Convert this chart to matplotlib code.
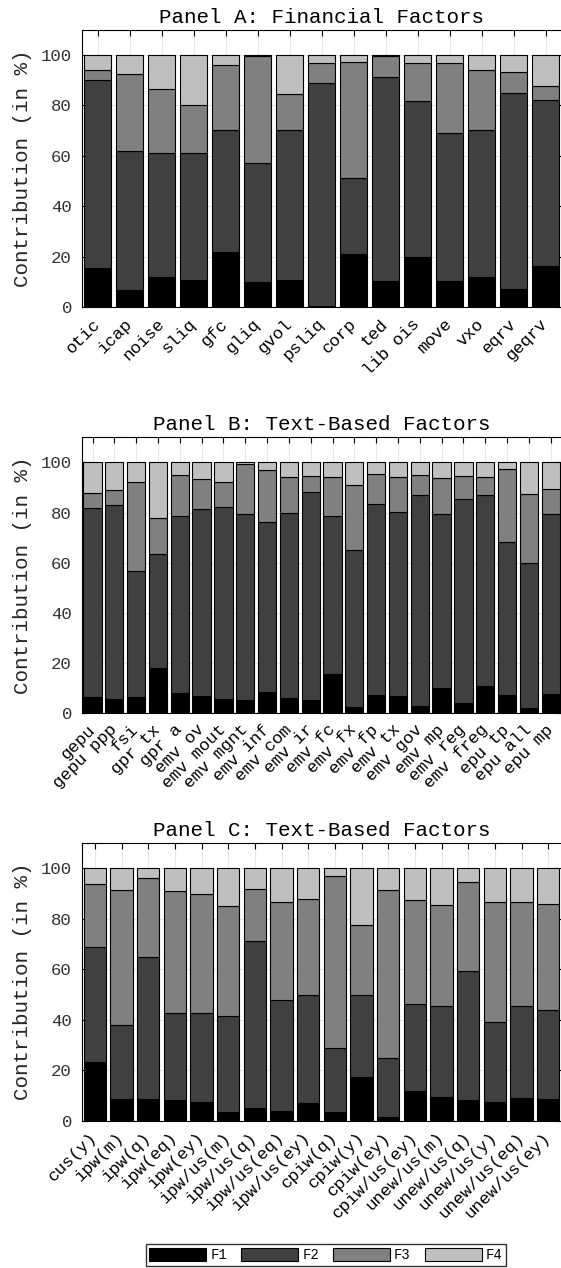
import numpy as np
import matplotlib
matplotlib.use("Agg")
import matplotlib.pyplot as plt
import matplotlib.transforms as mtransforms
from matplotlib.patches import Patch

plt.rcParams['font.family'] = ['Liberation Mono', 'DejaVu Sans Mono']

# Panel A: financial factors (share of each factor, in %)
fin_labels = ['otic', 'icap', 'noise', 'sliq', 'gfc', 'gliq', 'gvol', 'psliq',
              'corp', 'ted', 'lib ois', 'move', 'vxo', 'eqrv', 'geqrv']
fin_f1 = [15.6, 6.9, 12.1, 10.7, 21.9, 9.9, 10.7, 0.6, 21.2, 10.3, 19.9, 10.3, 12.1, 7.2, 16.6]
fin_f2 = [74.6, 55.1, 49.1, 50.3, 48.5, 47.1, 59.4, 88.4, 30.1, 81.1, 62.0, 58.8, 58.2, 77.8, 65.6]
fin_f3 = [3.7, 30.3, 25.3, 19.2, 25.6, 42.4, 14.5, 7.8, 45.7, 8.2, 14.7, 27.5, 23.6, 8.1, 5.4]
fin_f4 = [6.1, 7.7, 13.5, 19.8, 4.0, 0.6, 15.4, 3.2, 3.0, 0.4, 3.4, 3.4, 6.1, 6.9, 12.4]

# Panel B: text-based factors
txt_labels = ['gepu', 'gepu ppp', 'fsi', 'gpr tx', 'gpr a', 'emv ov', 'emv mout',
              'emv mgnt', 'emv inf', 'emv com', 'emv ir', 'emv fc', 'emv fx', 'emv fp',
              'emv tx', 'emv gov', 'emv mp', 'emv reg', 'emv freg', 'epu tp',
              'epu all', 'epu mp']
txt_f1 = [6.4, 5.6, 6.4, 17.9, 8.0, 6.7, 5.6, 5.3, 8.5, 6.0, 5.3, 15.7, 2.4, 7.1,
          6.9, 2.8, 10.1, 4.0, 10.7, 7.1, 2.1, 7.6]
txt_f2 = [75.3, 77.3, 50.3, 45.7, 70.7, 74.7, 76.6, 74.3, 67.9, 74.0, 82.9, 63.0, 62.7, 76.2,
          73.4, 84.4, 69.2, 81.4, 76.5, 61.2, 57.9, 71.7]
txt_f3 = [6.1, 6.0, 35.3, 14.3, 16.4, 11.9, 10.0, 19.6, 20.6, 14.0, 6.3, 15.5, 25.8, 12.0,
          13.8, 7.9, 14.4, 9.3, 6.9, 29.1, 27.4, 9.9]
txt_f4 = [12.2, 11.1, 8.0, 22.1, 4.9, 6.7, 7.8, 0.8, 3.0, 6.0, 5.5, 5.8, 9.1, 4.7,
          5.9, 4.9, 6.3, 5.3, 5.9, 2.6, 12.6, 10.8]

# Panel C: text-based factors (macro news)
mac_labels = ['cus(y)', 'ipw(m)', 'ipw(q)', 'ipw(eq)', 'ipw(ey)', 'ipw/us(m)', 'ipw/us(q)',
              'ipw/us(eq)', 'ipw/us(ey)', 'cpiw(q)', 'cpiw(y)', 'cpiw(ey)', 'cpiw/us(ey)',
              'unew/us(m)', 'unew/us(q)', 'unew/us(y)', 'unew/us(eq)', 'unew/us(ey)']
mac_f1 = [23.3, 8.6, 8.4, 8.2, 7.4, 3.3, 4.9, 3.8, 7.0, 3.4, 17.1, 1.3, 11.7, 9.3, 8.2, 7.4, 9.1, 8.6]
mac_f2 = [45.3, 29.2, 56.2, 34.4, 35.1, 38.3, 66.3, 44.1, 42.7, 25.4, 32.8, 23.6, 34.5, 36.2,
          51.1, 31.5, 36.2, 35.4]
mac_f3 = [25.2, 53.6, 31.6, 48.2, 47.1, 43.3, 20.5, 38.8, 37.9, 67.9, 27.5, 66.3, 41.0, 39.8,
          35.2, 47.7, 41.3, 41.7]
mac_f4 = [6.2, 8.6, 3.8, 9.2, 10.4, 15.1, 8.3, 13.3, 12.4, 3.3, 22.6, 8.8, 12.8, 14.7,
          5.5, 13.4, 13.4, 14.3]

factor_names = ['F1', 'F2', 'F3', 'F4']
factor_colors = ['#000000', '#404040', '#808080', '#bfbfbf']

W, H = 561, 1268
fig = plt.figure(figsize=(W / 100, H / 100), dpi=100)


def stacked_panel(rect, title, labels, parts):
    ax = fig.add_axes(rect)
    x = np.arange(1, len(labels) + 1)
    bottom = np.zeros(len(labels))
    for vals, col in zip(parts, factor_colors):
        vals = np.asarray(vals)
        ax.bar(x, vals, width=0.84, bottom=bottom, color=col,
               edgecolor='black', linewidth=0.8, zorder=2)
        bottom += vals
    ax.set_xlim(0.5, len(labels) + 0.5)
    ax.set_ylim(0, 110)
    ax.set_yticks(np.arange(0, 101, 20))
    ax.set_xticks(x)
    ax.set_xticklabels(labels, rotation=45, ha='right', va='center',
                       rotation_mode='anchor', fontsize=12.5)
    # MATLAB-like placement: label end sits a little right of its tick
    offset = mtransforms.ScaledTranslation(0.115, 0, fig.dpi_scale_trans)
    for lab in ax.get_xticklabels():
        lab.set_transform(lab.get_transform() + offset)
    ax.tick_params(axis='both', direction='in', top=True, right=True,
                   length=4, width=0.8, colors='black', labelsize=12.5)
    ax.tick_params(axis='y', pad=7, labelcolor='#333333')
    ax.tick_params(axis='x', pad=10)
    ax.grid(True, color='#e6e6e6', linewidth=0.8)
    ax.set_axisbelow(True)
    for s in ax.spines.values():
        s.set_linewidth(0.8)
    ax.set_title(title, fontsize=15, pad=5)
    ax.set_ylabel('Contribution (in %)', fontsize=15, color='#262626', labelpad=6)
    return ax


left, width = 81.6 / W, 480 / W
stacked_panel([left, 1 - 307.5 / H, width, 278 / H],
              'Panel A: Financial Factors', fin_labels,
              [fin_f1, fin_f2, fin_f3, fin_f4])
stacked_panel([left, 1 - 713.3 / H, width, 276 / H],
              'Panel B: Text-Based Factors', txt_labels,
              [txt_f1, txt_f2, txt_f3, txt_f4])
stacked_panel([left, 1 - 1120.7 / H, width, 278 / H],
              'Panel C: Text-Based Factors', mac_labels,
              [mac_f1, mac_f2, mac_f3, mac_f4])

handles = [Patch(facecolor=c, edgecolor='black', linewidth=0.8) for c in factor_colors]
fig.legend(handles, factor_names, loc='center', bbox_to_anchor=(326 / W, 1 - 1255 / H),
           ncol=4, frameon=True, fancybox=False, edgecolor='black', fontsize=10,
           handlelength=4.1, handleheight=1.1, columnspacing=1.0, handletextpad=0.3,
           borderpad=0.25, borderaxespad=0)

fig.savefig('out.png', dpi=100)
